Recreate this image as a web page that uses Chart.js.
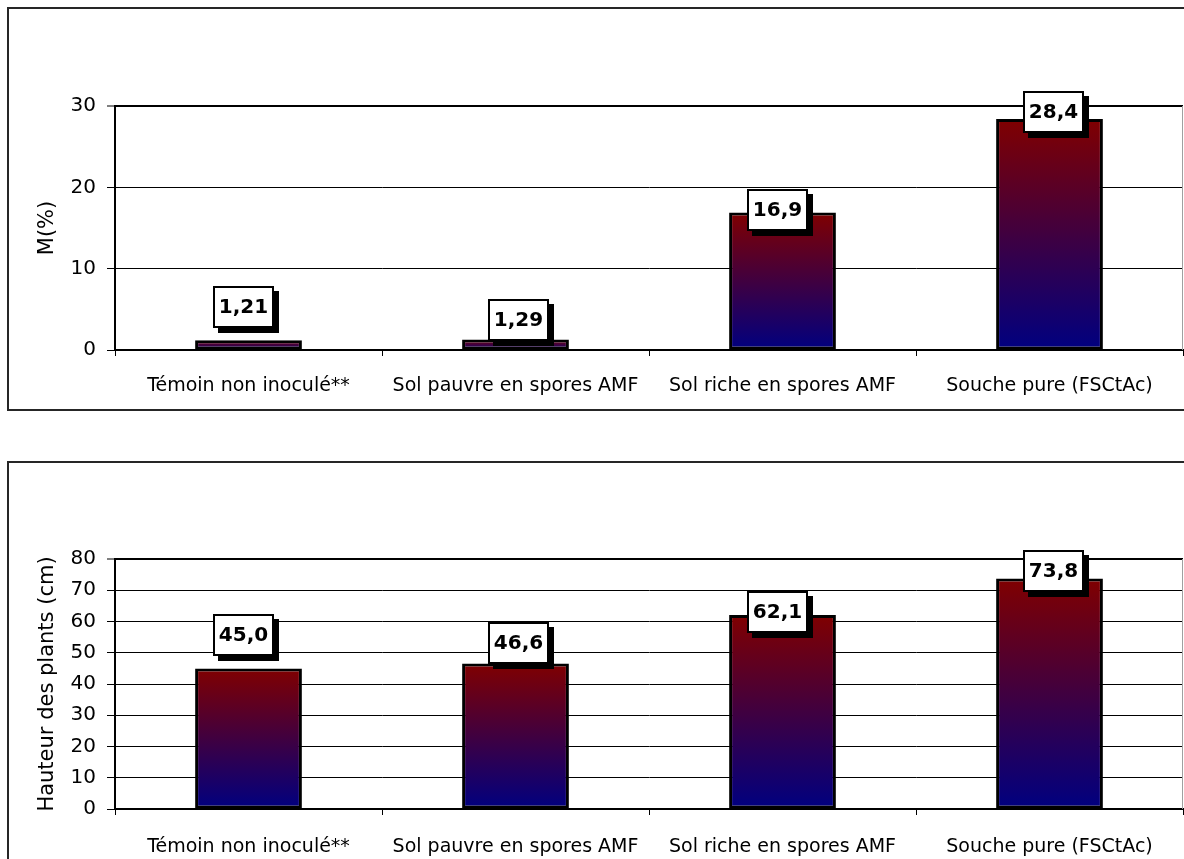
<!DOCTYPE html>
<html>
<head>
<meta charset="utf-8">
<script src="https://cdn.jsdelivr.net/npm/chart.js@4.4.1/dist/chart.umd.min.js"></script>
<style>
  html, body { margin: 0; padding: 0; background: #fff; width: 1184px; height: 859px; overflow: hidden; position: relative; }
  canvas { position: absolute; left: 0; }
  #topChart { top: 0; }
  #bottomChart { top: 440px; }
  .frame { position: absolute; left: 7px; width: 1190px; border: 2px solid #262626; box-sizing: border-box; pointer-events: none; }
  #topFrame { top: 7px; height: 404px; }
  #bottomFrame { top: 461px; height: 410px; }
</style>
</head>
<body>
<canvas id="topChart" width="1184" height="430"></canvas>
<canvas id="bottomChart" width="1184" height="419"></canvas>
<div class="frame" id="topFrame"></div>
<div class="frame" id="bottomFrame"></div>
<script>
// Treatments compared in both panels
const categories = [
  'Témoin non inoculé**',
  'Sol pauvre en spores AMF',
  'Sol riche en spores AMF',
  'Souche pure (FSCtAc)'
];

// Mycorrhizal intensity M(%) per treatment
const mycorrhizaValues = [1.21, 1.29, 16.9, 28.4];
// Plant height (cm) per treatment
const plantHeightValues = [45.0, 46.6, 62.1, 73.8];

// Value-axis tick labels
const mycorrhizaTicks = [0, 10, 20, 30];
const plantHeightTicks = [0, 10, 20, 30, 40, 50, 60, 70, 80];

const mycorrhizaTitle = 'M(%)';
const plantHeightTitle = 'Hauteur des plants (cm)';

// Where each value box sits relative to the top of its bar (dx, dy in px)
const LABEL_NUDGE = [[-5, -33], [3, -20], [-5, -3], [4, -7]];

const FONT = '"DejaVu Sans", Verdana, sans-serif';

// Vertical dark-red -> navy fill, one gradient per bar
function barGradient(context) {
  const chart = context.chart;
  const yScale = chart.scales.y;
  if (!chart.chartArea || !yScale) return '#400040';
  const top = yScale.getPixelForValue(context.raw);
  const base = yScale.getPixelForValue(0);
  const g = chart.ctx.createLinearGradient(0, top, 0, base);
  g.addColorStop(0, '#800000');
  g.addColorStop(1, '#000080');
  return g;
}

// Boxed value labels with a black drop shadow
const valueBoxes = {
  id: 'valueBoxes',
  afterDatasetsDraw(chart, args, opts) {
    const ctx = chart.ctx;
    const meta = chart.getDatasetMeta(0);
    const values = chart.data.datasets[0].data;
    meta.data.forEach((bar, i) => {
      const text = Number(values[i]).toPrecision(3).replace('.', ',');
      const [dx, dy] = opts.nudge[i];
      const w = 61, h = 42;
      const x = Math.round(bar.x + dx - w / 2);
      const y = Math.round(bar.y + dy - h / 2);
      ctx.save();
      ctx.fillStyle = '#000';
      ctx.fillRect(x + 5, y + 5, w, h);
      ctx.fillStyle = '#fff';
      ctx.fillRect(x, y, w, h);
      ctx.lineWidth = 2;
      ctx.strokeStyle = '#000';
      ctx.strokeRect(x + 1, y + 1, w - 2, h - 2);
      ctx.font = 'bold 20px ' + FONT;
      ctx.fillStyle = '#000';
      ctx.textAlign = 'center';
      ctx.textBaseline = 'middle';
      ctx.fillText(text, x + w / 2, y + h / 2 + 1);
      ctx.restore();
    });
  }
};

// Light right-hand edge of the plot area
const plotEdge = {
  id: 'plotEdge',
  beforeDatasetsDraw(chart) {
    const { ctx, chartArea } = chart;
    ctx.save();
    ctx.strokeStyle = '#a0a0a0';
    ctx.lineWidth = 1;
    ctx.beginPath();
    ctx.moveTo(chartArea.right - 0.5, chartArea.top);
    ctx.lineTo(chartArea.right - 0.5, chartArea.bottom);
    ctx.stroke();
    ctx.restore();
  }
};

function makeChart(canvasId, values, ticks, title, layout) {
  const maxTick = ticks[ticks.length - 1];
  return new Chart(document.getElementById(canvasId), {
    type: 'bar',
    data: {
      labels: categories,
      datasets: [{
        data: values,
        backgroundColor: barGradient,
        borderColor: '#000',
        borderWidth: 3,
        borderSkipped: false,
        categoryPercentage: 0.4,
        barPercentage: 1
      }]
    },
    plugins: [plotEdge, valueBoxes],
    options: {
      responsive: false,
      animation: false,
      devicePixelRatio: 1,
      layout: { padding: { top: layout.top, right: 1, bottom: 0, left: 0 } },
      plugins: {
        legend: { display: false },
        tooltip: { enabled: false },
        valueBoxes: { nudge: LABEL_NUDGE }
      },
      scales: {
        x: {
          afterFit(scale) { scale.height = layout.xHeight; },
          grid: {
            display: true,
            drawOnChartArea: false,
            drawTicks: true,
            tickLength: 6,
            color: '#000',
            lineWidth: 1,
            offset: true
          },
          border: { display: true, color: '#000', width: 2 },
          ticks: {
            color: '#000',
            font: { family: FONT, size: 19 },
            padding: layout.xPad,
            maxRotation: 0,
            autoSkip: false
          }
        },
        y: {
          min: ticks[0],
          max: maxTick,
          afterFit(scale) { scale.width = 115; },
          afterBuildTicks(scale) { scale.ticks = ticks.map(v => ({ value: v })); },
          grid: {
            color: '#000',
            lineWidth: ctx => (ctx.tick && ctx.tick.value === maxTick ? 2 : 1),
            tickLength: 8,
            tickColor: '#000',
            tickWidth: 1
          },
          border: { display: true, color: '#000', width: 2 },
          ticks: {
            color: '#000',
            font: { family: FONT, size: 20 },
            padding: 11
          },
          title: {
            display: true,
            text: title,
            color: '#000',
            font: { family: FONT, size: 21 },
            padding: { top: 35, bottom: 0 }
          }
        }
      }
    }
  });
}

makeChart('topChart', mycorrhizaValues, mycorrhizaTicks, mycorrhizaTitle,
  { top: 106, xHeight: 80, xPad: 19 });
makeChart('bottomChart', plantHeightValues, plantHeightTicks, plantHeightTitle,
  { top: 119, xHeight: 50, xPad: 21 });
</script>
</body>
</html>
